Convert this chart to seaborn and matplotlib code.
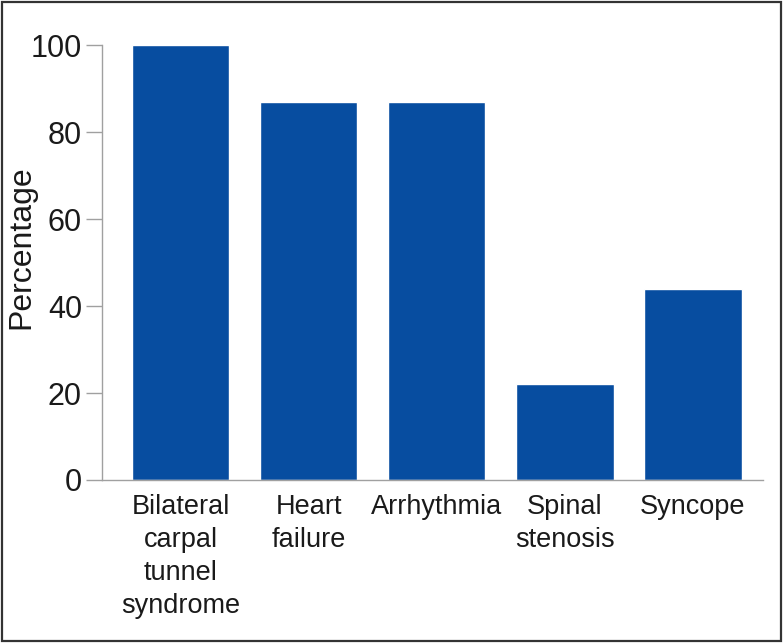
import matplotlib
matplotlib.use('Agg')
import matplotlib.pyplot as plt
import seaborn as sns
import pandas as pd
from matplotlib.patches import Rectangle

# 数据
categories = ['Bilateral\ncarpal\ntunnel\nsyndrome', 'Heart\nfailure', 'Arrhythmia',
              'Spinal\nstenosis', 'Syncope']
percentages = [100, 87, 87, 22, 44]
yticks = [0, 20, 40, 60, 80, 100]

df = pd.DataFrame({'category': categories, 'pct': percentages})

sns.set_style('white')
plt.rcParams['font.family'] = ['Liberation Sans', 'DejaVu Sans']

fig = plt.figure(figsize=(7.83, 6.43), dpi=100)
ax = fig.add_axes([0.1303, 0.2535, 0.8442, 0.6765])

sns.barplot(data=df, x='category', y='pct', color='#074DA0', saturation=1,
            width=0.76, ax=ax)

ax.set_ylim(0, 100)
ax.set_xlim(-0.613, 4.547)
ax.set_yticks(yticks)
ax.set_xlabel('')
ax.set_ylabel('Percentage', fontsize=23, color='#1a1a1a')
ax.yaxis.set_label_coords(-0.1, 0.535)

for side in ['top', 'right']:
    ax.spines[side].set_visible(False)
for side in ['left', 'bottom']:
    ax.spines[side].set_color('#a0a0a0')
    ax.spines[side].set_linewidth(1.0)

ax.tick_params(axis='y', length=11.5, width=1.0, color='#a0a0a0', pad=3,
               labelsize=22, labelcolor='#1a1a1a', left=True)
ax.tick_params(axis='x', length=0, pad=10, labelsize=19.5, labelcolor='#1a1a1a')
for lab in ax.get_xticklabels():
    lab.set_linespacing(1.36)
    lab.set_verticalalignment('top')

# 外框
fig.patches.append(Rectangle((0.002, 0.003), 0.995, 0.994, transform=fig.transFigure,
                             fill=False, edgecolor='#333333', linewidth=1.6))

plt.savefig('out.png', dpi=100)
plt.close()
